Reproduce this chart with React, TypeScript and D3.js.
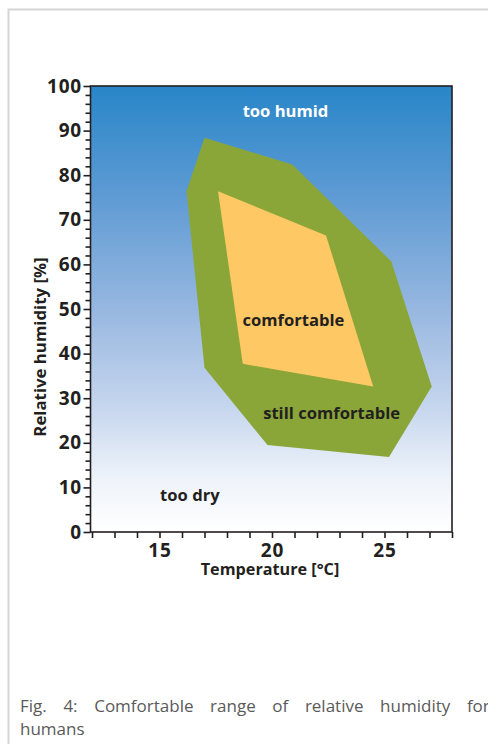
import * as d3 from "d3";
import { useEffect, useRef } from "react";

// temperature axis (°C) and humidity axis (%)
const tempTicks = [12, 13, 14, 15, 16, 17, 18, 19, 20, 21, 22, 23, 24, 25, 26, 27, 28];
const tempLabels = [15, 20, 25];
const humMajor = [0, 10, 20, 30, 40, 50, 60, 70, 80, 90, 100];
const humMinor = [2, 4, 6, 8, 12, 14, 16, 18, 22, 24, 26, 28, 32, 34, 36, 38, 42, 44, 46, 48,
  52, 54, 56, 58, 62, 64, 66, 68, 72, 74, 76, 78, 82, 84, 86, 88, 92, 94, 96, 98];

// "still comfortable" zone outline
const outerTemp = [17.0, 20.9, 25.3, 27.1, 25.2, 19.8, 17.0, 16.2];
const outerHum = [88.4, 82.4, 60.7, 32.6, 16.8, 19.5, 36.8, 76.4];

// "comfortable" zone outline
const innerTemp = [17.6, 22.4, 24.5, 18.7];
const innerHum = [76.4, 66.5, 32.6, 37.7];

// region annotations
const regionNames = ["too humid", "comfortable", "still comfortable", "too dry"];
const regionTemp = [20.6, 20.95, 22.65, 16.35];
const regionHum = [94.4, 47.5, 26.6, 8.3];
const regionColor = ["#ffffff", "#231f20", "#231f20", "#231f20"];

const caption1 = ["Fig.", "4:", "Comfortable", "range", "of", "relative", "humidity", "for"];
const caption2 = ["humans"];

const W = 488;
const H = 744;
const ink = "#231f20";
const font = "'Open Sans', sans-serif";

const Chart = () => {
  const ref = useRef<SVGSVGElement>(null);

  useEffect(() => {
    const svg = d3.select(ref.current);
    svg.selectAll("*").remove();

    // page frame
    svg.append("rect")
      .attr("x", 8.5).attr("y", 9.5)
      .attr("width", 700).attr("height", 900)
      .attr("fill", "none")
      .attr("stroke", "#d5d5d5")
      .attr("stroke-width", 2);

    const x = d3.scaleLinear().domain([12, 28]).range([92, 452]);
    const y = d3.scaleLinear().domain([0, 100]).range([532, 86]);

    const defs = svg.append("defs");
    const grad = defs.append("linearGradient")
      .attr("id", "sky").attr("x1", 0).attr("y1", 0).attr("x2", 0).attr("y2", 1);
    [
      [0, "#2886c8"],
      [0.25, "#5f9bd4"],
      [0.5, "#97b7e0"],
      [0.72, "#c6d6ee"],
      [0.88, "#eef3fa"],
      [1, "#ffffff"],
    ].forEach(([o, c]) => grad.append("stop").attr("offset", o as number).attr("stop-color", c as string));

    svg.append("rect")
      .attr("x", 90.5).attr("y", y(100))
      .attr("width", 452 - 90.5).attr("height", y(0) - y(100))
      .attr("fill", "url(#sky)");

    const poly = (ts: number[], hs: number[], fill: string) => {
      const l = d3.line<number>()
        .x((d) => x(ts[d]))
        .y((d) => y(hs[d]))
        .curve(d3.curveLinearClosed);
      svg.append("path")
        .attr("d", l(d3.range(ts.length)))
        .attr("fill", fill);
    };
    poly(outerTemp, outerHum, "#8ba638");
    poly(innerTemp, innerHum, "#fec864");

    // border
    svg.append("rect")
      .attr("x", 90.5).attr("y", y(100))
      .attr("width", 452 - 90.5).attr("height", y(0) - y(100))
      .attr("fill", "none")
      .attr("stroke", ink)
      .attr("stroke-width", 1.6);

    const styleAxis = (g: d3.Selection<SVGGElement, unknown, null, undefined>) => {
      g.select(".domain").remove();
      g.selectAll("line").attr("stroke", ink).attr("stroke-width", 1.6);
      g.selectAll("text")
        .attr("fill", ink)
        .attr("font-family", font)
        .attr("font-weight", 700)
        .attr("font-size", 19)
        .attr("letter-spacing", 0.8);
    };

    svg.append("g")
      .attr("transform", "translate(90.5,0)")
      .call(d3.axisLeft(y).tickValues(humMinor).tickSize(5).tickFormat(() => ""))
      .call(styleAxis);
    svg.append("g")
      .attr("transform", "translate(90.5,0)")
      .call(d3.axisLeft(y).tickValues(humMajor).tickSize(7).tickPadding(1.5))
      .call(styleAxis);

    svg.append("g")
      .attr("transform", `translate(0,${y(0)})`)
      .call(d3.axisBottom(x).tickValues(tempTicks).tickSize(6)
        .tickFormat((d) => (tempLabels.includes(d as number) ? String(d) : "")).tickPadding(5.5))
      .call(styleAxis);

    // axis titles
    svg.append("text")
      .attr("x", 270).attr("y", 574.5)
      .attr("text-anchor", "middle")
      .attr("font-family", font).attr("font-weight", 700).attr("font-size", 16.2)
      .attr("fill", ink)
      .text("Temperature [°C]");

    svg.append("text")
      .attr("transform", "translate(46,347) rotate(-90)")
      .attr("text-anchor", "middle")
      .attr("font-family", font).attr("font-weight", 700).attr("font-size", 16.8)
      .attr("fill", ink)
      .text("Relative humidity [%]");

    // region labels
    svg.selectAll(".region")
      .data(regionNames)
      .enter()
      .append("text")
      .attr("class", "region")
      .attr("x", (_, i) => x(regionTemp[i]))
      .attr("y", (_, i) => y(regionHum[i]))
      .attr("dy", "0.35em")
      .attr("text-anchor", "middle")
      .attr("font-family", font).attr("font-weight", 700).attr("font-size", 16.6)
      .attr("fill", (_, i) => regionColor[i])
      .text((d) => d);

    // caption (justified line, runs past the page edge)
    const cap = svg.append("g")
      .attr("font-family", font).attr("font-size", 17).attr("fill", "#5a5a5a");
    cap.append("text").attr("x", 20).attr("y", 712)
      .attr("word-spacing", 12.2)
      .text(caption1.join(" "));
    cap.append("text").attr("x", 20).attr("y", 735)
      .text(caption2.join(" "));
  }, []);

  return <svg ref={ref} width={W} height={H} style={{ position: "absolute", left: 0, top: 0 }} />;
};

export default function App() {
  return <Chart />;
}
